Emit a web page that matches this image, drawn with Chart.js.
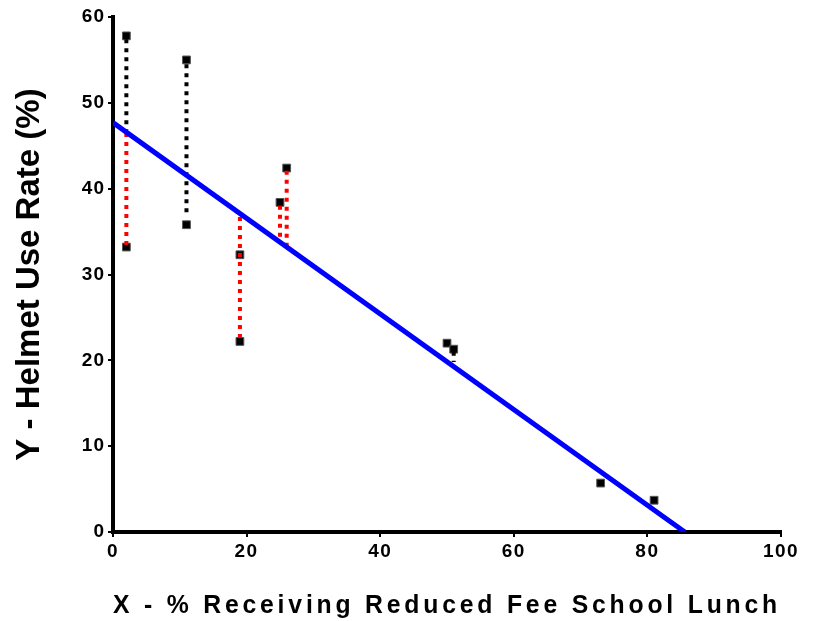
<!DOCTYPE html>
<html>
<head>
<meta charset="utf-8">
<script src="https://cdn.jsdelivr.net/npm/chart.js@4"></script>
<style>
  html, body { margin: 0; padding: 0; background: #fff; }
  #wrap { width: 816px; height: 621px; }
</style>
</head>
<body>
<div id="wrap"><canvas id="chart" width="816" height="621"></canvas></div>
<script>
// observed points
const pointX = [2, 2, 11, 11, 19, 19, 25, 26, 50, 51, 73, 81];
const pointY = [57.8, 33.2, 55, 35.8, 32.3, 22.2, 38.4, 42.4, 22.0, 21.3, 5.7, 3.7];

// regression line end points
const lineX = [0, 85.6];
const lineY = [47.7, 0];

// dotted residual segments: x, top, bottom
const blackX = [2, 11, 51];
const blackTop = [57.4, 54.5, 21.0];
const blackBottom = [46.8, 36.9, 19.8];

const redX = [2, 19, 25, 26];
const redTop = [46.5, 36.7, 38.0, 42.1];
const redBottom = [33.3, 22.3, 33.8, 33.3];

const FONT = "'Liberation Sans', Arial, sans-serif";

function segments(xs, tops, bottoms, color) {
  return xs.map((x, i) => ({
    type: "scatter",
    data: [{ x: x, y: tops[i] }, { x: x, y: bottoms[i] }],
    showLine: true,
    borderColor: color,
    borderWidth: 4,
    borderDash: [4, 5],
    borderCapStyle: "butt",
    pointRadius: 0,
    order: 1,
  }));
}

// wrap a scale drawing method so its text gets extra letter spacing
function withSpacing(scale, name, sp) {
  if (!scale || scale["_sp_" + name]) return;
  const orig = scale[name];
  scale[name] = function (...args) {
    const c = this.ctx;
    const prev = c.letterSpacing;
    c.letterSpacing = sp;
    orig.apply(this, args);
    c.letterSpacing = prev;
  };
  scale["_sp_" + name] = true;
}

const spacing = {
  id: "spacing",
  afterUpdate(chart) {
    withSpacing(chart.scales.x, "drawTitle", "4px");
    withSpacing(chart.scales.x, "drawLabels", "1.5px");
    withSpacing(chart.scales.y, "drawLabels", "1px");
  },
};

const ctx = document.getElementById("chart").getContext("2d");
new Chart(ctx, {
  type: "scatter",
  data: {
    datasets: [
      {
        data: lineX.map((x, i) => ({ x: x, y: lineY[i] })),
        showLine: true,
        borderColor: "#0000ff",
        borderWidth: 5,
        pointRadius: 0,
        order: 0,
      },
      ...segments(blackX, blackTop, blackBottom, "#000000"),
      ...segments(redX, redTop, redBottom, "#ff0000"),
      {
        data: pointX.map((x, i) => ({ x: x, y: pointY[i] })),
        pointStyle: "rect",
        pointRadius: 5.5,
        backgroundColor: "#000000",
        borderColor: "#555555",
        borderWidth: 1,
        order: 2,
      },
    ],
  },
  options: {
    responsive: false,
    animation: false,
    layout: { padding: { top: 17, right: 35, left: 0, bottom: 0 } },
    plugins: {
      legend: { display: false },
      tooltip: { enabled: false },
    },
    scales: {
      x: {
        type: "linear",
        min: 0,
        max: 100,
        afterFit: (s) => { s.height = 89; },
        border: { display: true, color: "#000", width: 4 },
        grid: { drawOnChartArea: false, color: "#000", lineWidth: 2, tickLength: 5 },
        ticks: {
          stepSize: 20,
          color: "#000",
          padding: 3,
          font: { family: FONT, size: 19, weight: "bold" },
        },
        title: {
          display: true,
          text: "X - % Receiving Reduced Fee School Lunch",
          color: "#000",
          font: { family: FONT, size: 26, weight: "bold" },
          padding: { top: 20, bottom: 0 },
        },
      },
      y: {
        type: "linear",
        min: 0,
        max: 60,
        afterFit: (s) => { s.width = 113; },
        border: { display: true, color: "#000", width: 4 },
        grid: { drawOnChartArea: false, color: "#000", lineWidth: 2, tickLength: 5 },
        ticks: {
          stepSize: 10,
          color: "#000",
          padding: 3,
          font: { family: FONT, size: 19, weight: "bold" },
        },
        title: {
          display: true,
          text: "Y - Helmet Use Rate (%)",
          color: "#000",
          font: { family: FONT, size: 33, weight: "bold" },
          padding: { top: 10, bottom: 0 },
        },
      },
    },
  },
  plugins: [spacing],
});
</script>
</body>
</html>
